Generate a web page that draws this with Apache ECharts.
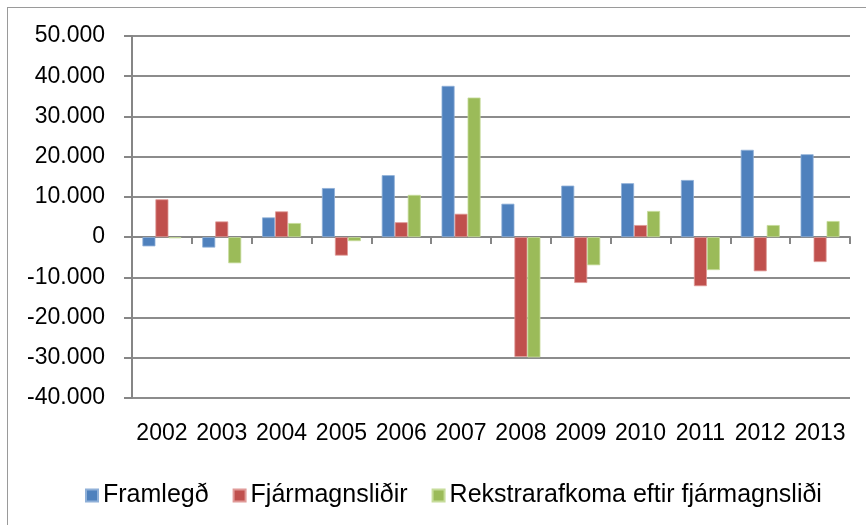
<!DOCTYPE html>
<html>
<head>
<meta charset="utf-8">
<script src="https://cdn.jsdelivr.net/npm/echarts@6/dist/echarts.min.js"></script>
<style>
html,body{margin:0;padding:0;background:#fff;}
#frame{position:absolute;left:7px;top:7px;width:866px;height:525px;border-left:1.5px solid #9a9a9a;border-top:1.5px solid #9a9a9a;box-sizing:border-box;}
#chart{position:absolute;left:0;top:0;width:866px;height:525px;}
</style>
</head>
<body>
<div id="frame"></div>
<div id="chart"></div>
<script>
const years = ['2002','2003','2004','2005','2006','2007','2008','2009','2010','2011','2012','2013'];
const framlegd = [-2300, -2600, 4900, 12200, 15400, 37600, 8300, 12800, 13400, 14200, 21700, 20600];
const fjarmagnslidir = [9400, 3900, 6400, -4600, 3700, 5800, -29800, -11400, 3000, -12200, -8500, -6200];
const rekstrarafkoma = [-300, -6500, 3500, -1000, 10500, 34700, -29900, -7000, 6500, -8200, 3000, 4000];
const seriesNames = ['Framlegð', 'Fjármagnsliðir', 'Rekstrarafkoma eftir fjármagnsliði'];
const yTicks = { min: -40000, max: 50000, interval: 10000 };

function fmt(v){
  const s = Math.abs(v).toString().replace(/\B(?=(\d{3})+(?!\d))/g, '.');
  return (v < 0 ? '-' : '') + s;
}

const chart = echarts.init(document.getElementById('chart'), null, {renderer:'canvas'});
const font = 'Liberation Sans, Arial, sans-serif';
const mk = (name, data, color, border) => ({
  name, type:'bar', data, barWidth:13, barGap:'0%', xAxisIndex:0,
  itemStyle:{color, borderColor:border, borderWidth:0.8},
  emphasis:{disabled:true}
});
chart.setOption({
  animation:false,
  backgroundColor:'transparent',
  grid:{left:132, right:16, top:36, bottom:127, containLabel:false},
  legend:{
    data:seriesNames, left:80, top:478, icon:'rect', itemWidth:12, itemHeight:12, itemGap:24,
    textStyle:{fontFamily:font, fontSize:25, color:'#000', padding:[0,0,0,0]}
  },
  xAxis:[
    {type:'category', data:years, position:'bottom',
     axisLine:{show:false, onZero:false}, axisTick:{show:false},
     axisLabel:{fontFamily:font, fontSize:23, color:'#000', margin:24, interval:0}},
    {type:'category', data:years, position:'bottom',
     axisLine:{show:true, onZero:true, lineStyle:{color:'#868686', width:2}},
     axisTick:{show:true, length:7, inside:false, lineStyle:{color:'#868686', width:2}},
     axisLabel:{show:false}}
  ],
  yAxis:{
    type:'value', min:yTicks.min, max:yTicks.max, interval:yTicks.interval,
    axisLine:{show:true, lineStyle:{color:'#868686', width:2}},
    axisTick:{show:true, length:8, lineStyle:{color:'#868686', width:2}},
    splitLine:{show:true, lineStyle:{color:'#8c8c8c', width:2}},
    axisLabel:{fontFamily:font, fontSize:23, color:'#000', margin:27, formatter:fmt}
  },
  series:[
    mk(seriesNames[0], framlegd, '#4F81BD', '#8fb0d8'),
    mk(seriesNames[1], fjarmagnslidir, '#C0504D', '#e09a98'),
    mk(seriesNames[2], rekstrarafkoma, '#9BBB59', '#c6dc9a')
  ]
});
</script>
</body>
</html>
